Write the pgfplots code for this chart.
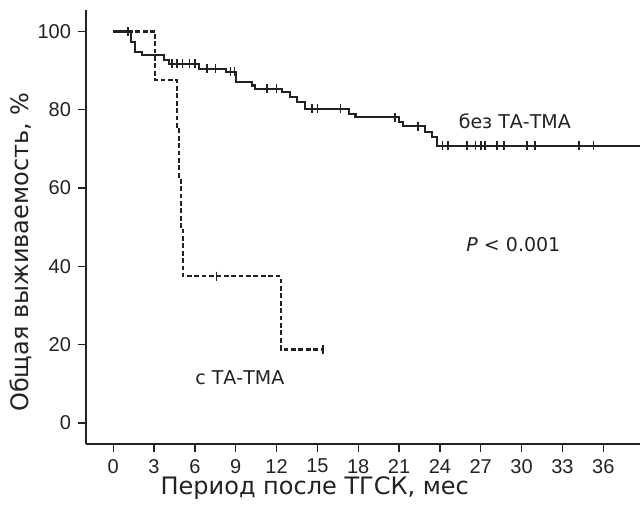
\documentclass[border=0pt]{standalone}
\usepackage{fontspec}
\setmainfont{DejaVu Sans}
\newfontfamily\tickfont{Liberation Sans}
\usepackage{pgfplots}
\pgfplotsset{compat=1.18}
\usetikzlibrary{calc}

\definecolor{ink}{HTML}{222222}

\begin{document}
\begin{tikzpicture}
\begin{axis}[
    scale only axis,
    width=277pt,
    height=217pt,
    xmin=-2, xmax=38.7,
    ymin=-5.4, ymax=105.5,
    axis lines=left,
    axis line style={-, line width=1pt, ink},
    xtick={0,3,...,36},
    ytick={0,20,...,100},
    tick align=outside,
    major tick length=4pt,
    tick style={ink, line width=0.7pt},
    /pgf/number format/assume math mode=true,
    tick label style={font=\tickfont\fontsize{10}{12}\selectfont, text=ink},
    xlabel={Период после ТГСК, мес},
    ylabel={Общая выживаемость, \%},
    label style={font=\fontsize{12}{14}\selectfont, text=ink},
    xlabel style={at={(ticklabel cs:0.413)}, anchor=north, yshift=5pt},
    ylabel style={at={(ticklabel cs:0.442)}, yshift=-4pt},
    clip=false
]
% без ТА-ТМА
\addplot[const plot, ink, line width=1.05pt, mark=none] coordinates {
(0,100) (1.3,97.3) (1.6,94.8) (2.1,93.9) (3.7,92.8) (4.1,91.8)
(6.3,90.5) (8.3,89.7) (9.0,87.1) (10.2,86.2) (10.4,85.4) (12.4,84.5)
(13.0,83.3) (13.5,82.0) (14.1,80.3) (17.3,79.0) (17.8,78.1) (21.0,76.8)
(21.3,75.8) (22.9,74.3) (23.4,73.0) (23.8,70.8) (38.7,70.8)
};
\addplot[only marks, mark=|, mark size=2.2pt, ink, mark options={line width=0.75pt}] coordinates {
(1.1,100) (4.3,91.8) (4.7,91.8) (5.1,91.8) (5.6,91.8) (6.0,91.8)
(6.9,90.5) (7.5,90.5) (8.6,89.7) (8.9,89.7) (11.3,85.4) (12.0,85.4)
(14.6,80.3) (15.0,80.3) (16.7,80.3) (20.7,78.1) (22.4,75.8)
(24.2,70.8) (24.6,70.8) (26.0,70.8) (26.6,70.8) (27.0,70.8) (27.3,70.8)
(28.2,70.8) (28.7,70.8) (30.4,70.8) (31.0,70.8) (34.2,70.8) (35.3,70.8)
};
% с ТА-ТМА
\addplot[const plot, ink, line width=1.05pt, dash pattern=on 2.4pt off 1.3pt, mark=none] coordinates {
(0,100) (3.1,87.5) (4.7,75) (4.85,62.5) (4.95,50) (5.1,37.5) (12.3,18.75) (15.4,18.75)
};
\addplot[only marks, mark=|, mark size=2.2pt, ink, mark options={line width=0.75pt}] coordinates {
(7.6,37.5) (15.4,18.75)
};
\node[font=\fontsize{9.5}{11}\selectfont, text=ink] at (axis cs:29.5,77.2) {без ТА-ТМА};
\node[font=\fontsize{9.5}{11}\selectfont, text=ink] at (axis cs:9.3,11.5) {с ТА-ТМА};
\node[font=\fontsize{9.5}{11}\selectfont, text=ink] at (axis cs:29.4,45.6) {\textit{P} < 0.001};
\coordinate (bl) at (rel axis cs:0,0);
\coordinate (tr) at (rel axis cs:1,1);
\end{axis}
\pgfresetboundingbox
\path ($(bl)+(-43pt,-33pt)$) rectangle ($(tr)+(0pt,5pt)$);
\end{tikzpicture}
\end{document}
